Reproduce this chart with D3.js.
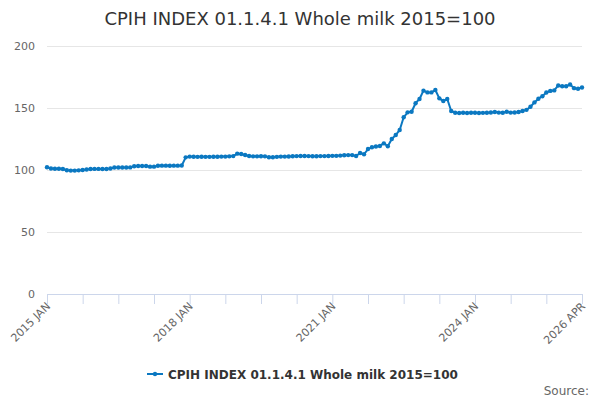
<!DOCTYPE html>
<html>
<head>
<meta charset="utf-8">
<script src="https://cdn.jsdelivr.net/npm/d3@7"></script>
<style>
  body { margin: 0; background: #fff; }
  svg { font-family: "DejaVu Sans", sans-serif; }
</style>
</head>
<body>
<div id="chart"></div>
<script>
// monthly index values, 2015 JAN .. 2026 APR
const seriesName = "CPIH INDEX 01.1.4.1 Whole milk 2015=100";
const startMonth = "2015-01";
const values = [
  102.2, 101.2, 101.0, 101.0, 100.8, 99.8, 99.5, 99.5, 99.7, 100.0, 100.4, 100.8,
  100.9, 100.9, 100.8, 100.8, 101.2, 102.0, 102.0, 102.0, 102.0, 102.1, 103.0, 103.2,
  103.2, 103.2, 102.7, 102.7, 103.4, 103.5, 103.5, 103.4, 103.5, 103.5, 103.6, 110.2,
  110.8, 110.7, 110.6, 110.7, 110.6, 110.6, 110.7, 110.7, 110.8, 110.8, 111.0, 111.2,
  113.2, 112.9, 112.1, 111.3, 111.0, 111.0, 111.1, 111.0, 110.3, 110.3, 110.6, 110.8,
  110.8, 110.9, 111.1, 111.2, 111.3, 111.3, 111.2, 111.1, 111.1, 111.2, 111.2, 111.3,
  111.4, 111.4, 111.6, 111.9, 112.0, 112.0, 111.3, 113.7, 112.7, 116.9, 118.3, 119.0,
  119.4, 121.5, 119.2, 125.0, 128.2, 132.3, 142.5, 146.5, 147.0, 153.8, 157.3, 164.0,
  162.6, 162.6, 164.5, 157.8, 155.6, 157.3, 147.6, 146.2, 146.0, 146.2, 146.0, 146.2,
  146.2, 146.0, 146.1, 146.2, 146.4, 146.8, 146.3, 146.2, 147.0, 146.3, 146.4, 146.8,
  147.6, 148.5, 151.0, 154.5, 157.5, 159.5, 162.5, 163.8, 164.2, 168.2, 167.6, 167.5,
  169.0, 166.0, 165.5, 166.5
];
const yTicks = [0, 50, 100, 150, 200];
const tickEvery = 9;       // x tick marks every 9 months
const labelEvery = 36;     // labels every 3 years, plus the last month
const monthNames = ["JAN","FEB","MAR","APR","MAY","JUN","JUL","AUG","SEP","OCT","NOV","DEC"];

const width = 600, height = 400;
const margin = { top: 46, right: 18, bottom: 106, left: 47 };
const color = "#0b78c1";

const start = d3.timeParse("%Y-%m")(startMonth);
const months = values.map((v, i) => d3.timeMonth.offset(start, i));
const label = d => d.getFullYear() + " " + monthNames[d.getMonth()];

const svg = d3.select("#chart").append("svg")
    .attr("width", width)
    .attr("height", height);

const x = d3.scaleLinear()
    .domain([0, values.length - 1])
    .range([margin.left, width - margin.right]);

const y = d3.scaleLinear()
    .domain([0, 200])
    .range([height - margin.bottom, margin.top]);

// title
svg.append("text")
    .attr("x", width / 2)
    .attr("y", 25)
    .attr("text-anchor", "middle")
    .attr("fill", "#333")
    .style("font-size", "18px")
    .text(seriesName);

// grid + y labels
const yAxis = svg.append("g")
    .attr("transform", `translate(${margin.left},0)`)
    .call(d3.axisLeft(y).tickValues(yTicks)
        .tickSize(-(width - margin.left - margin.right))
        .tickPadding(12));
yAxis.select(".domain").remove();
yAxis.selectAll(".tick line").attr("stroke", "#e6e6e6");
yAxis.selectAll(".tick text")
    .attr("fill", "#666")
    .style("font-size", "11px")
    .style("font-family", "DejaVu Sans, sans-serif");

// x axis
const tickIdx = d3.range(0, values.length, tickEvery);
const xAxis = svg.append("g")
    .attr("transform", `translate(0,${y(0)})`)
    .call(d3.axisBottom(x).tickValues(tickIdx).tickSize(10).tickFormat(""));
xAxis.select(".domain").attr("stroke", "#ccd6eb");
xAxis.selectAll(".tick line").attr("stroke", "#ccd6eb");

const labelIdx = d3.range(0, values.length, labelEvery).concat([values.length - 1]);
svg.append("g")
    .selectAll("text")
    .data(labelIdx)
    .join("text")
    .attr("transform", d => `translate(${x(d) + 4},${y(0) + 13}) rotate(-45)`)
    .attr("text-anchor", "end")
    .attr("fill", "#666")
    .style("font-size", "11px")
    .text(d => label(months[d]));

// series
const line = d3.line()
    .x((d, i) => x(i))
    .y(d => y(d));

svg.append("path")
    .datum(values)
    .attr("fill", "none")
    .attr("stroke", color)
    .attr("stroke-width", 2)
    .attr("stroke-linejoin", "round")
    .attr("d", line);

svg.append("g")
    .selectAll("circle")
    .data(values)
    .join("circle")
    .attr("cx", (d, i) => x(i))
    .attr("cy", d => y(d))
    .attr("r", 2.2)
    .attr("fill", color);

// legend
const legend = svg.append("g").attr("transform", "translate(147,374)");
legend.append("line")
    .attr("x1", 0).attr("x2", 16)
    .attr("stroke", color).attr("stroke-width", 2);
legend.append("circle")
    .attr("cx", 8).attr("r", 2.2).attr("fill", color);
legend.append("text")
    .attr("x", 21)
    .attr("y", 4.5)
    .attr("fill", "#333")
    .style("font-size", "12px")
    .style("font-weight", "bold")
    .text(seriesName);

// credits
svg.append("text")
    .attr("x", width - 11)
    .attr("y", 395)
    .attr("text-anchor", "end")
    .attr("fill", "#666")
    .style("font-size", "12px")
    .text("Source:");
</script>
</body>
</html>
